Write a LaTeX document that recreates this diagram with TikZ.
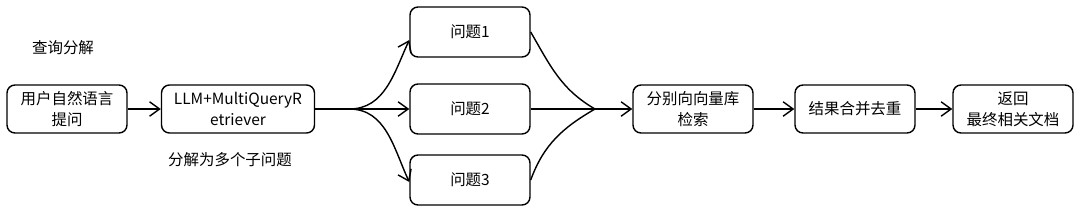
\documentclass[tikz,border=0pt]{standalone}
\usepackage{fontspec}
\setmainfont{Noto Sans CJK SC}
\usetikzlibrary{positioning, arrows.meta}

\begin{document}
\begin{tikzpicture}[
        >={Straight Barb[length=2.5mm,width=3.6mm]},
        line width=1pt,
        node distance=4cm,
        on grid,
        every node/.style={font=\fontsize{11pt}{15pt}\selectfont},
        box/.style={draw, rounded corners=0.2cm, align=center, inner sep=2pt,
                    minimum width=3cm, minimum height=1.2cm},
        qbox/.style={box, minimum height=1.25cm}
    ]
        \useasboundingbox (0,0) rectangle (27,-5.3);
        \node[box] (ask) at (1.675,-2.725) {用户自然语言\\提问};
\node[box, minimum width=3.825cm, right=4.275cm of ask] (mq) {LLM+MultiQueryR\\etriever};
        \node[qbox, right=5.8cm of mq] (q2) {问题2};
        \node[qbox, above=1.925cm of q2] (q1) {问题1};
        \node[qbox, below=1.775cm of q2] (q3) {问题3};
\node[box, right=5.575cm of q2] (search) {分别向向量库\\检索};
        \node[box, right=4.05cm of search] (merge) {结果合并去重};
        \node[box, right=3.95cm of merge] (ret) {返回\\最终相关文档};
        \node[above=1.525cm of ask, xshift=-0.1cm] (lbltop) {查询分解};
        \node[below=1.275cm of mq, xshift=-0.2cm] (lblsub) {分解为多个子问题};
        \coordinate[right=0.85cm of mq.east] (split);
        \coordinate[right=3.125cm of q2] (join);
\path[->]
        (ask) edge (mq)
        (mq.east) edge (q2)
        (search) edge (merge)
        (merge) edge (ret)
        (join) edge (search);
        \draw[->] (mq.east) -- (split) to[out=0, in=245] ([yshift=-0.2cm]q1.west);
        \draw[->] (mq.east) -- (split) to[out=0, in=115] ([yshift=-0.05cm]q3.west);
        \draw (q1.east) to[out=-60, in=150] (join);
        \draw (q2.east) -- (join);
        \draw (q3.east) to[out=70, in=-150] (join);
\end{tikzpicture}
\end{document}
